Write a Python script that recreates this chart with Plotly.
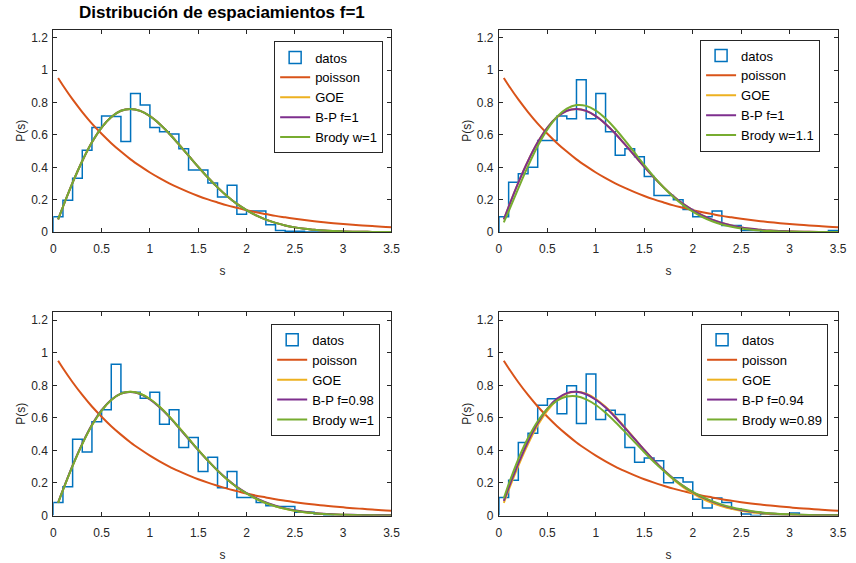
import plotly.graph_objects as go

# ---------------- data ----------------
bin_edges = [round(0.1 * i, 1) for i in range(36)]  # 0 .. 3.5, width 0.1

datos_1 = [0.095, 0.196, 0.333, 0.505, 0.646, 0.717, 0.713, 0.56, 0.855, 0.784,
           0.646, 0.62, 0.606, 0.515, 0.384, 0.384, 0.303, 0.216, 0.289, 0.11,
           0.13, 0.13, 0.046, 0.01, 0.005, 0.005, 0.0, 0.0, 0.0, 0.0,
           0.0, 0.0, 0.0, 0.0, 0.0]
datos_2 = [0.095, 0.307, 0.36, 0.40, 0.566, 0.566, 0.717, 0.70, 0.94, 0.70,
           0.855, 0.62, 0.475, 0.515, 0.465, 0.343, 0.226, 0.226, 0.20, 0.14,
           0.095, 0.095, 0.13, 0.04, 0.04, 0.01, 0.01, 0.0, 0.0, 0.0,
           0.0, 0.0, 0.0, 0.0, 0.01]
datos_3 = [0.08, 0.176, 0.469, 0.39, 0.576, 0.65, 0.93, 0.758, 0.758, 0.72,
           0.758, 0.56, 0.65, 0.418, 0.48, 0.27, 0.358, 0.17, 0.27, 0.11,
           0.11, 0.08, 0.06, 0.056, 0.056, 0.02, 0.02, 0.01, 0.0, 0.005,
           0.005, 0.005, 0.0, 0.005, 0.005]
datos_4 = [0.11, 0.216, 0.448, 0.505, 0.677, 0.717, 0.626, 0.798, 0.566, 0.869,
           0.59, 0.646, 0.62, 0.418, 0.327, 0.354, 0.337, 0.202, 0.232, 0.206,
           0.10, 0.046, 0.107, 0.08, 0.04, 0.01, 0.0, 0.01, 0.005, 0.005,
           0.015, 0.005, 0.005, 0.005, 0.005]

s_grid = [0.05, 0.1, 0.2, 0.3, 0.4, 0.5, 0.6, 0.7, 0.8, 0.9,
          1.0, 1.1, 1.2, 1.3, 1.4, 1.5, 1.6, 1.7, 1.8, 1.9,
          2.0, 2.1, 2.2, 2.3, 2.4, 2.5, 2.6, 2.7, 2.8, 2.9,
          3.0, 3.1, 3.2, 3.3, 3.4, 3.5]

poisson = [0.951, 0.905, 0.819, 0.741, 0.670, 0.607, 0.549, 0.497, 0.449, 0.407,
           0.368, 0.333, 0.301, 0.273, 0.247, 0.223, 0.202, 0.183, 0.165, 0.150,
           0.135, 0.122, 0.111, 0.100, 0.091, 0.082, 0.074, 0.067, 0.061, 0.055,
           0.050, 0.045, 0.041, 0.037, 0.033, 0.030]
goe = [0.078, 0.156, 0.305, 0.439, 0.554, 0.645, 0.710, 0.749, 0.760, 0.748,
       0.716, 0.668, 0.609, 0.541, 0.472, 0.403, 0.337, 0.276, 0.221, 0.174,
       0.136, 0.103, 0.077, 0.057, 0.041, 0.029, 0.020, 0.014, 0.009, 0.006,
       0.004, 0.0025, 0.0016, 0.0010, 0.0006, 0.0004]
brody_2 = [0.060, 0.128, 0.270, 0.407, 0.531, 0.634, 0.712, 0.762, 0.784, 0.779,
           0.750, 0.701, 0.638, 0.566, 0.490, 0.414, 0.341, 0.275, 0.217, 0.167,
           0.126, 0.093, 0.067, 0.047, 0.033, 0.022, 0.015, 0.0095, 0.006, 0.0038,
           0.0023, 0.0014, 0.0008, 0.0005, 0.0003, 0.0002]
bp_3 = [0.080, 0.158, 0.308, 0.442, 0.557, 0.647, 0.711, 0.749, 0.759, 0.746,
        0.713, 0.665, 0.606, 0.539, 0.470, 0.402, 0.337, 0.277, 0.223, 0.176,
        0.138, 0.106, 0.080, 0.060, 0.044, 0.032, 0.023, 0.016, 0.011, 0.008,
        0.005, 0.004, 0.003, 0.002, 0.001, 0.001]
bp_4 = [0.090, 0.170, 0.320, 0.455, 0.568, 0.657, 0.718, 0.752, 0.760, 0.745,
        0.711, 0.663, 0.604, 0.538, 0.470, 0.403, 0.339, 0.280, 0.228, 0.182,
        0.143, 0.111, 0.085, 0.064, 0.047, 0.034, 0.025, 0.018, 0.012, 0.008,
        0.006, 0.004, 0.003, 0.002, 0.001, 0.001]
brody_4 = [0.105, 0.192, 0.347, 0.476, 0.579, 0.656, 0.706, 0.731, 0.733, 0.714,
           0.679, 0.631, 0.575, 0.514, 0.451, 0.389, 0.329, 0.275, 0.225, 0.182,
           0.145, 0.114, 0.088, 0.067, 0.051, 0.038, 0.028, 0.020, 0.014, 0.010,
           0.007, 0.005, 0.003, 0.002, 0.0014, 0.0009]

panels = [
    dict(datos=datos_1, bp=goe, brody=goe, bp_name="B-P f=1", brody_name="Brody w=1"),
    dict(datos=datos_2, bp=goe, brody=brody_2, bp_name="B-P f=1", brody_name="Brody w=1.1"),
    dict(datos=datos_3, bp=bp_3, brody=goe, bp_name="B-P f=0.98", brody_name="Brody w=1"),
    dict(datos=datos_4, bp=bp_4, brody=brody_4, bp_name="B-P f=0.94", brody_name="Brody w=0.89"),
]

x_ticks = [0, 0.5, 1, 1.5, 2, 2.5, 3, 3.5]
x_ticktext = ["0", "0.5", "1", "1.5", "2", "2.5", "3", "3.5"]
y_ticks = [0, 0.2, 0.4, 0.6, 0.8, 1.0, 1.2]
y_ticktext = ["0", "0.2", "0.4", "0.6", "0.8", "1", "1.2"]

# ---------------- style ----------------
W, H = 856, 563
FONT = "Liberation Sans, Arial, Helvetica, sans-serif"
C_DATOS = "#0072BD"
C_POIS = "#D95319"
C_GOE = "#EDB120"
C_BP = "#7E2F8E"
C_BRODY = "#77AC30"
AXC = "#262626"

# pixel boxes (left, right, top, bottom)
boxes = [(51, 394, 30, 235), (503, 847, 30, 235), (51, 394, 316, 522), (503, 847, 316, 522)]
legend_pos = [(275, 42), (707, 40), (272, 328), (708, 328)]

fig = go.Figure()

for i, p in enumerate(panels):
    k = i + 1
    xa = "x" if k == 1 else f"x{k}"
    ya = "y" if k == 1 else f"y{k}"
    lg = "legend" if k == 1 else f"legend{k}"

    # stairs histogram
    sx = [bin_edges[0]] + bin_edges[:-1] + [bin_edges[-1], bin_edges[-1]]
    sy = [0] + p["datos"] + [p["datos"][-1], 0]
    fig.add_trace(go.Bar(x=[None], y=[None], name="datos", xaxis=xa, yaxis=ya, legend=lg,
                         marker=dict(color="rgba(255,255,255,0)", line=dict(color=C_DATOS, width=1.5)),
                         showlegend=True))
    fig.add_trace(go.Scatter(x=sx, y=sy, mode="lines", line=dict(color=C_DATOS, width=1.5, shape="hv"),
                             xaxis=xa, yaxis=ya, showlegend=False, hoverinfo="skip"))
    fig.add_trace(go.Scatter(x=s_grid, y=poisson, mode="lines", name="poisson",
                             line=dict(color=C_POIS, width=2, shape="spline"), xaxis=xa, yaxis=ya, legend=lg))
    fig.add_trace(go.Scatter(x=s_grid, y=goe, mode="lines", name="GOE",
                             line=dict(color=C_GOE, width=2, shape="spline"), xaxis=xa, yaxis=ya, legend=lg))
    fig.add_trace(go.Scatter(x=s_grid, y=p["bp"], mode="lines", name=p["bp_name"],
                             line=dict(color=C_BP, width=2, shape="spline"), xaxis=xa, yaxis=ya, legend=lg))
    fig.add_trace(go.Scatter(x=s_grid, y=p["brody"], mode="lines", name=p["brody_name"],
                             line=dict(color=C_BRODY, width=2, shape="spline"), xaxis=xa, yaxis=ya, legend=lg))

    l, r, t, b = boxes[i]
    axis_common = dict(showline=True, linecolor=AXC, linewidth=1, mirror="ticks", ticks="inside",
                       ticklen=4, tickcolor=AXC, showgrid=False, zeroline=False,
                       tickfont=dict(family=FONT, size=12, color=AXC))
    xkey = "xaxis" if k == 1 else f"xaxis{k}"
    ykey = "yaxis" if k == 1 else f"yaxis{k}"
    fig.update_layout({
        xkey: dict(domain=[l / W, r / W], anchor=ya, range=[0, 3.5], tickvals=x_ticks, ticktext=x_ticktext,
                   ticklabelstandoff=6,
                   title=dict(text="s", font=dict(family=FONT, size=12, color=AXC), standoff=11),
                   **axis_common),
        ykey: dict(domain=[1 - b / H, 1 - t / H], anchor=xa, range=[0, 1.25], tickvals=y_ticks, ticktext=y_ticktext,
                   ticklabelstandoff=2,
                   title=dict(text="P(s)", font=dict(family=FONT, size=12, color=AXC), standoff=2),
                   **axis_common),
    })
    lx, ly = legend_pos[i]
    fig.update_layout({
        lg: dict(x=lx / W, y=1 - ly / H, xanchor="left", yanchor="top", bgcolor="white",
                 bordercolor=AXC, borderwidth=1, font=dict(family=FONT, size=13, color="black"),
                 itemwidth=30, tracegroupgap=0, traceorder="normal")
    })

fig.add_annotation(text="<b>Distribución de espaciamientos f=1</b>", x=(51 + 394) / 2 / W, y=1 - 13 / H,
                   xref="paper", yref="paper", showarrow=False, xanchor="center", yanchor="middle",
                   font=dict(family=FONT, size=17, color="black"))

fig.update_layout(width=W, height=H, margin=dict(l=0, r=0, t=0, b=0),
                  paper_bgcolor="white", plot_bgcolor="white", showlegend=True)

fig.write_html("out.html")
